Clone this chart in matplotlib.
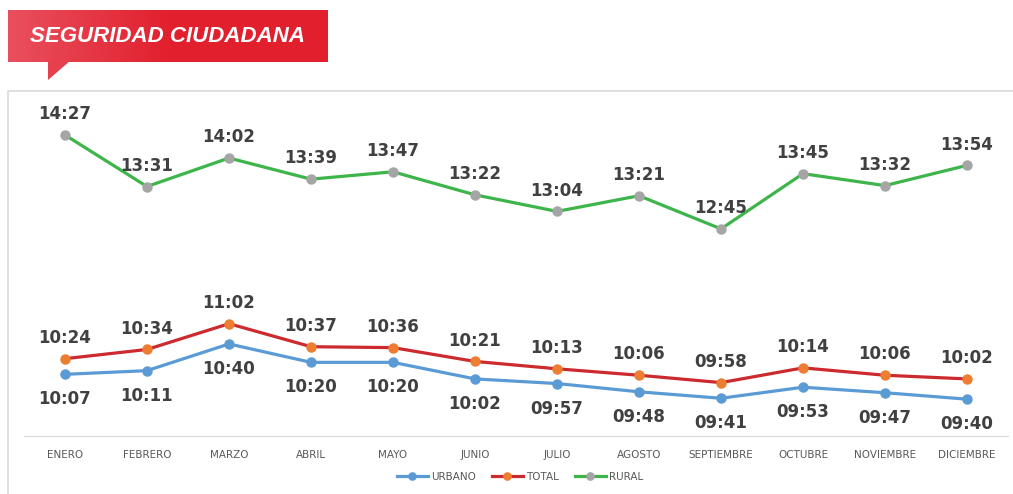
import numpy as np
import matplotlib.pyplot as plt
from matplotlib.patches import Polygon, Rectangle

meses = ["ENERO", "FEBRERO", "MARZO", "ABRIL", "MAYO", "JUNIO", "JULIO",
         "AGOSTO", "SEPTIEMBRE", "OCTUBRE", "NOVIEMBRE", "DICIEMBRE"]
urbano = ["10:07", "10:11", "10:40", "10:20", "10:20", "10:02", "09:57",
          "09:48", "09:41", "09:53", "09:47", "09:40"]
total = ["10:24", "10:34", "11:02", "10:37", "10:36", "10:21", "10:13",
         "10:06", "09:58", "10:14", "10:06", "10:02"]
rural = ["14:27", "13:31", "14:02", "13:39", "13:47", "13:22", "13:04",
         "13:21", "12:45", "13:45", "13:32", "13:54"]


def to_min(lst):
    return np.array([int(s[:2]) * 60 + int(s[3:]) for s in lst])


W, H = 1013, 494
fig = plt.figure(figsize=(W / 100, H / 100), dpi=100)
fig.patch.set_facecolor("white")

# marco del grafico
fig.patches.append(Rectangle((8 / W, -0.1), 1.2, (H - 91) / H + 0.1,
                             transform=fig.transFigure, facecolor="none",
                             edgecolor="#DADADA", lw=1.2))

# banner del titulo
grad = np.linspace(0, 1, 256).reshape(1, -1)
from matplotlib.colors import LinearSegmentedColormap
cmap = LinearSegmentedColormap.from_list("r", ["#E9505E", "#E2202E", "#E21F2D"])
bax = fig.add_axes([0, 0, 1, 1], zorder=5)
bax.set_xlim(0, W)
bax.set_ylim(H, 0)
bax.axis("off")
bax.patch.set_alpha(0)
im = bax.imshow(grad, cmap=cmap, extent=(8, 328, 62, 10), aspect="auto")
clip = Polygon([(8, 10), (328, 10), (328, 62), (70, 62), (48, 80), (48, 62), (8, 62)],
               closed=True, transform=bax.transData, facecolor="none", edgecolor="none")
bax.add_patch(clip)
im.set_clip_path(clip)
bax.add_patch(Polygon([(48, 61), (70, 61), (48, 80)], closed=True,
                      facecolor="#E6404E", edgecolor="none"))
bax.text(168, 37, "SEGURIDAD CIUDADANA", color="white", fontsize=16,
         fontweight="bold", fontstyle="italic", family="Liberation Sans",
         ha="center", va="center")

ax = fig.add_axes([24 / W, 58 / H, 984 / W, 336 / H])
x = np.arange(len(meses))
yu, yt, yr = to_min(urbano), to_min(total), to_min(rural)

ax.plot(x, yu, color="#5B9BD5", lw=2.3, marker="o", ms=6.5, mfc="#5B9BD5", mec="#5B9BD5", label="URBANO")
ax.plot(x, yt, color="#CC2A2F", lw=2.3, marker="o", ms=6.5, mfc="#ED7D31", mec="#ED7D31", label="TOTAL")
ax.plot(x, yr, color="#3DB54A", lw=2.3, marker="o", ms=6.5, mfc="#A5A5A5", mec="#A5A5A5", label="RURAL")

lab = dict(ha="center", va="center", fontsize=12, fontweight="bold", color="#404040")
for i in range(len(meses)):
    ax.annotate(rural[i], (x[i], yr[i]), xytext=(0, 15), textcoords="offset points", **lab)
    ax.annotate(total[i], (x[i], yt[i]), xytext=(0, 15), textcoords="offset points", **lab)
    ax.annotate(urbano[i], (x[i], yu[i]), xytext=(0, -18), textcoords="offset points", **lab)

ax.set_xlim(-0.5, len(meses) - 0.5)
ax.set_ylim(540, 905)
ax.set_xticks(x)
ax.set_xticklabels(meses, fontsize=7.5, color="#595959")
ax.tick_params(axis="x", length=0, pad=10)
ax.set_yticks([])
for s in ["top", "left", "right"]:
    ax.spines[s].set_visible(False)
ax.spines["bottom"].set_color("#D9D9D9")
ax.patch.set_alpha(0)

fig.legend(loc="center", bbox_to_anchor=(520 / W, 1 - 477 / H), ncol=3, frameon=False,
           fontsize=7.5, labelcolor="#595959", handlelength=3, columnspacing=1.5,
           handletextpad=0.3, markerscale=0.8)

fig.savefig("out.png", dpi=100)
